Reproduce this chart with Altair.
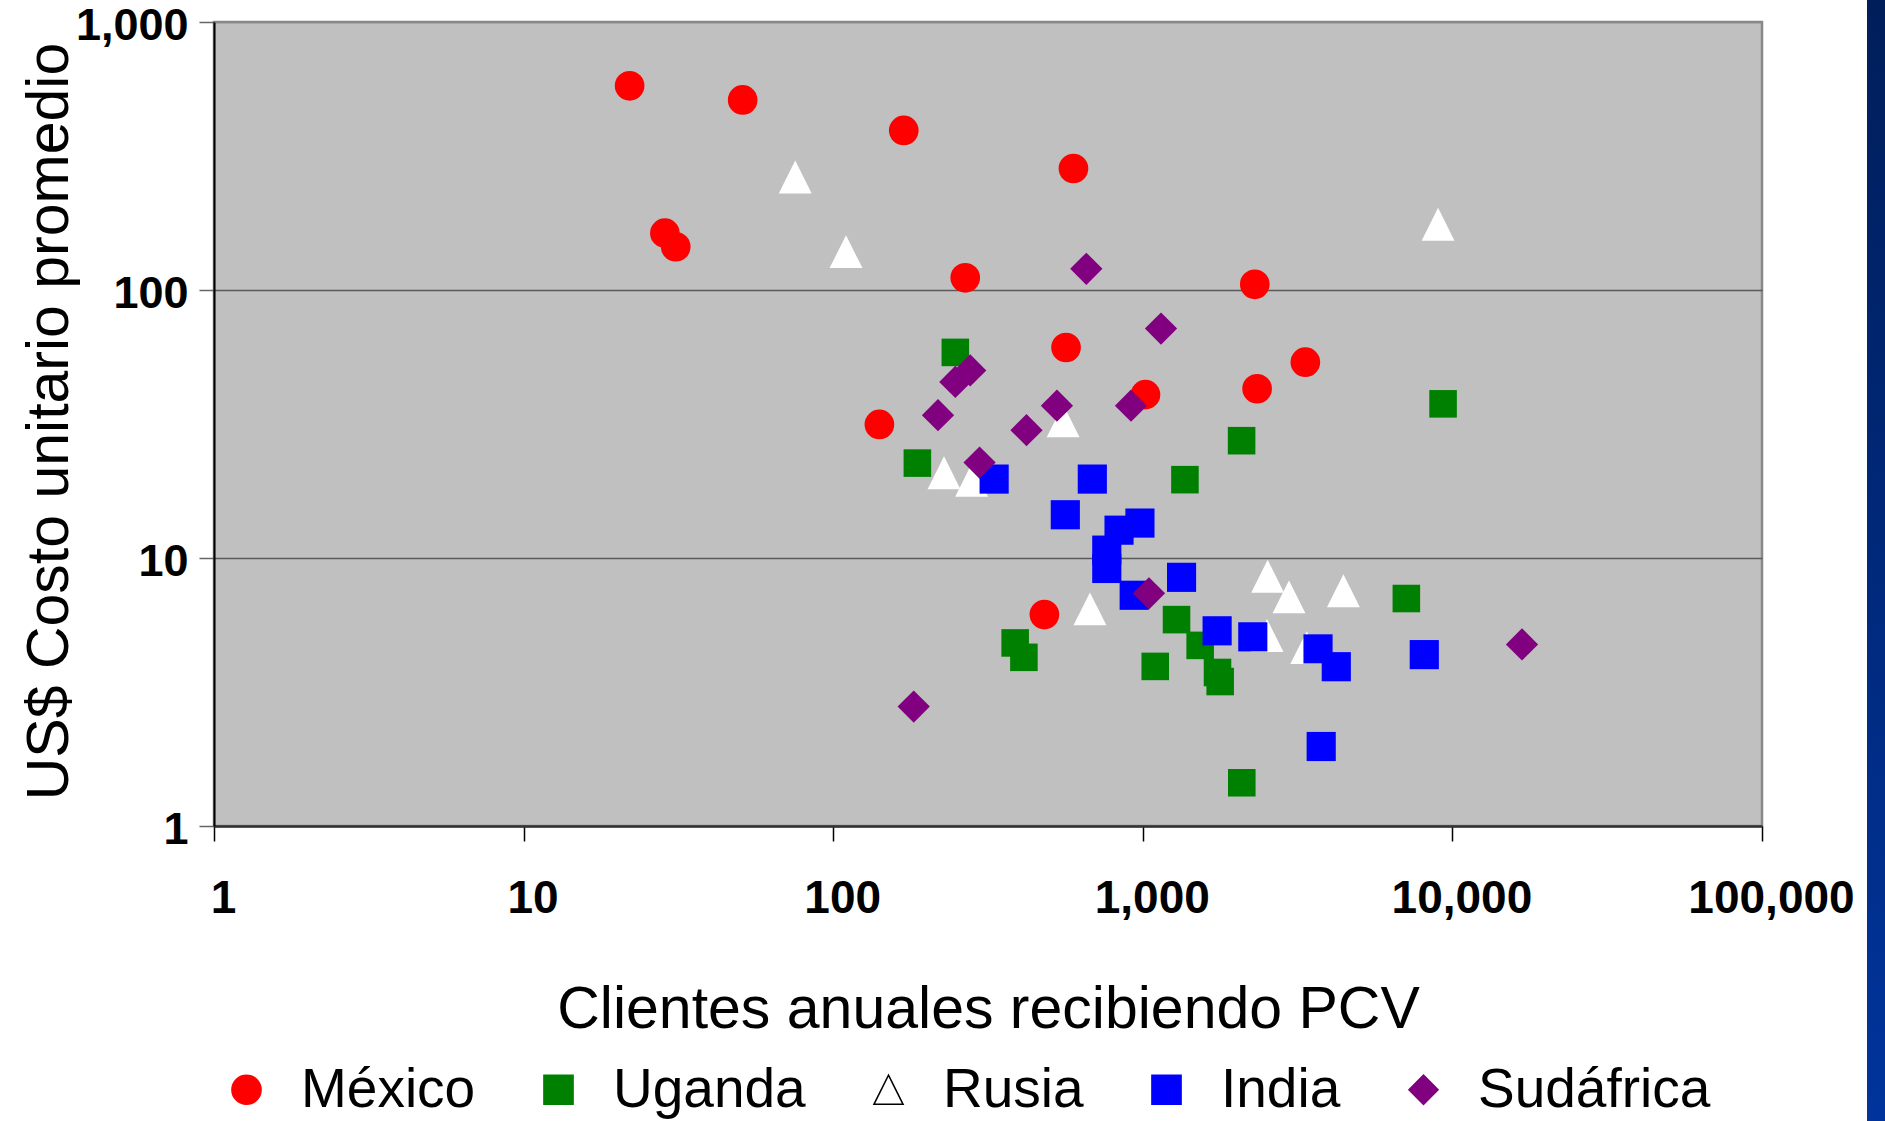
import altair as alt
import pandas as pd

# ---------------- data ----------------
countries = ["México", "Uganda", "Rusia", "India", "Sudáfrica"]
country_colors = ["#FF0000", "#008000", "#FFFFFF", "#0000FF", "#800080"]
legend_outline = ["#FF0000", "#008000", "#000000", "#0000FF", "#800080"]
country_shapes = ["circle", "square", "M0,-1L1,1L-1,1Z", "square", "diamond"]
country_sizes = [880, 760, 1080, 850, 1040]

mexico_x = [22, 51, 169, 597, 28.6, 31, 267, 2300, 565, 3350, 1020, 2340, 141, 481]
mexico_y = [578, 512, 394, 284, 163, 145, 111, 105, 61, 53.8, 40.7, 42.8, 31.5, 6.15]

uganda_x = [248, 187, 2085, 1368, 9330, 7100, 387, 413, 1285, 1097, 1532, 1743, 1778, 2088]
uganda_y = [58.5, 22.6, 27.4, 19.6, 37.6, 7.06, 4.82, 4.26, 5.89, 3.94, 4.72, 3.74, 3.46, 1.45]

rusia_x = [75.4, 110, 8990, 553, 228, 280, 675, 2531, 2966, 4446, 2520, 3385]
rusia_y = [264, 139, 176, 32.5, 20.8, 19.5, 6.46, 8.55, 7.16, 7.55, 5.14, 4.63]

india_x = [331, 687, 562, 838, 979, 765, 765, 938, 1334, 1738, 2266, 3681, 4217, 8113, 3769]
india_y = [19.7, 19.7, 14.5, 12.7, 13.5, 10.7, 9.14, 7.26, 8.47, 5.35, 5.08, 4.58, 3.93, 4.36, 1.98]

sudafrica_x = [657, 1145, 277, 248, 218, 528, 421, 916, 297, 1047, 182, 16780]
sudafrica_y = [120, 71.8, 50.1, 45.4, 34.1, 37, 30, 37, 22.7, 7.38, 2.79, 4.76]

x_ticks = [1, 10, 100, 1000, 10000, 100000]
y_ticks = [1, 10, 100, 1000]

x_title = "Clientes anuales recibiendo PCV"
y_title = "US$ Costo unitario promedio"

series = [
    ("México", mexico_x, mexico_y),
    ("Uganda", uganda_x, uganda_y),
    ("Rusia", rusia_x, rusia_y),
    ("India", india_x, india_y),
    ("Sudáfrica", sudafrica_x, sudafrica_y),
]
rows = []
k = 0
for name, xs, ys in series:
    for xv, yv in zip(xs, ys):
        rows.append({"pais": name, "clientes": xv, "costo": yv, "orden": k})
        k += 1
df = pd.DataFrame(rows)
df["tam"] = df["pais"].map(dict(zip(countries, country_sizes)))

FONT = "Liberation Sans"

legend = alt.Legend(
    title=None,
    orient="none",
    direction="horizontal",
    legendX=5,
    legendY=1040,
    labelFont=FONT,
    labelFontSize=55,
    labelColor="black",
    labelLimit=0,
    labelOffset=27,
    columnPadding=55,
    symbolOpacity=1,
    symbolSize=850,
    symbolStrokeWidth=1.5,
)

points = alt.Chart(df).mark_point(
    filled=True, opacity=1, strokeWidth=1.5
).encode(
    x=alt.X(
        "clientes:Q",
        scale=alt.Scale(type="log", domain=[1, 100000], nice=False),
        axis=alt.Axis(
            values=x_ticks,
            format=",",
            title=x_title,
            grid=False,
            labelFont=FONT,
            labelFontSize=46,
            labelFontWeight="bold",
            labelColor="black",
            labelFlush=False,
            labelOverlap=False,
            labelOffset=9,
            labelPadding=35,
            tickSize=15,
            tickColor="black",
            tickWidth=1.5,
            domainColor="#333333",
            domainWidth=2.5,
            titleFont=FONT,
            titleFontSize=59,
            titleFontWeight="normal",
            titleColor="black",
            titleBaseline="alphabetic",
            titleY=201,
        ),
    ),
    y=alt.Y(
        "costo:Q",
        scale=alt.Scale(type="log", domain=[1, 1000], nice=False),
        axis=alt.Axis(
            values=y_ticks,
            format=",",
            title=y_title,
            grid=True,
            gridColor={"condition": {"test": "datum.value === 1000", "value": "#888888"}, "value": "#5a5a5a"},
            gridWidth=1.5,
            labelFont=FONT,
            labelFontSize=45,
            labelFontWeight="bold",
            labelColor="black",
            labelPadding=11,
            labelOffset=3,
            tickSize=15,
            tickColor="#666666",
            tickWidth=1.5,
            domainColor="black",
            domainWidth=2,
            titleFont=FONT,
            titleFontSize=59,
            titleFontWeight="normal",
            titleColor="black",
            titleBaseline="alphabetic",
            titleX=-147,
            titleY=399,
        ),
    ),
    color=alt.Color("pais:N", scale=alt.Scale(domain=countries, range=country_colors), legend=legend),
    stroke=alt.Stroke("pais:N", scale=alt.Scale(domain=countries, range=legend_outline), legend=legend),
    shape=alt.Shape("pais:N", scale=alt.Scale(domain=countries, range=country_shapes), legend=legend),
    size=alt.Size("tam:Q", scale=None, legend=None),
    strokeOpacity=alt.value(0),
    order=alt.Order("orden:Q"),
)

# decorative navy slide bar on the right edge
bar = alt.Chart(alt.Data(values=[{}])).mark_rect(
    color=alt.Gradient(
        gradient="linear",
        stops=[alt.GradientStop(color="#001E5A", offset=0), alt.GradientStop(color="#00349C", offset=1)],
        x1=0, x2=0, y1=0, y2=1,
    )
).encode(
    x=alt.value(1653), x2=alt.value(1675), y=alt.value(-22), y2=alt.value(1099)
)

chart = alt.layer(points, bar).properties(
    width=1548,
    height=804,
    padding={"left": 214, "top": 22, "right": 123, "bottom": 295},
    autosize=alt.AutoSizeParams(type="none"),
    background="white",
).configure_view(
    fill="#C0C0C0", stroke="#888888", strokeWidth=2.5
)

chart.save("out.html", embed_options={"renderer": "svg", "actions": False})
